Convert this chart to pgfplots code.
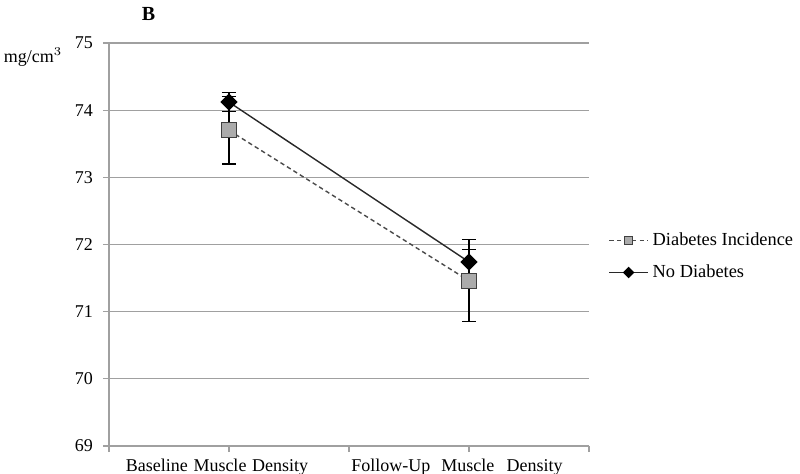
\documentclass[border=0pt]{standalone}
\usepackage{fontspec}
\setmainfont{Liberation Serif}
\usepackage{pgfplots}
\pgfplotsset{compat=1.18}
\definecolor{gridgray}{HTML}{A0A0A0}
\definecolor{sqfill}{HTML}{ABABAB}
\definecolor{sqedge}{HTML}{404040}
\definecolor{dashgray}{HTML}{4A4A4A}
\definecolor{solidline}{HTML}{282828}
\newcommand{\nf}{\fontsize{9pt}{11pt}\selectfont}
\newcommand{\lf}{\fontsize{9.2pt}{11pt}\selectfont}
\begin{document}
\begin{tikzpicture}
\useasboundingbox (-54.5pt,-13.5pt) rectangle (345.5pt,223pt);
\begin{axis}[
  at={(0pt,0pt)}, anchor=south west,
  scale only axis, width=240pt, height=201.5pt,
  xmin=0, xmax=4, ymin=69, ymax=75,
  axis x line*=bottom, axis y line*=left,
  axis line style={gridgray, line width=0.6pt},
  xtick={0,1,2,3,4},
  xticklabels={,Baseline\hspace{2.8pt}Muscle\hspace{2.8pt}Density,,Follow-Up\hspace{5.5pt}Muscle\hspace{6.2pt}Density,},
  ytick={69,70,71,72,73,74,75},
  tick align=outside, major tick length=3pt,
  tick style={gridgray, line width=0.6pt},
  ymajorgrids, grid style={gridgray, line width=0.6pt},
  xticklabel style={font=\nf, xshift=-6pt},
  yticklabel style={font=\nf, xshift=-1.5pt},
  /pgf/number format/assume math mode=true,
  legend style={draw=none, fill=none, at={(1.04,0.47)}, anchor=west,
    font=\lf, row sep=4pt, inner sep=0pt,
    /tikz/every even column/.append style={column sep=1.5pt}},
  legend cell align=left,
  legend image code/.code={
    \draw[mark repeat=2,mark phase=2,#1] plot coordinates {(0cm,0cm) (0.34cm,0cm) (0.68cm,0cm)};
  },
  clip=false,
]
\addplot[dashgray, dash pattern=on 2.2pt off 1.6pt, line width=0.7pt,
  mark=square*, mark size=3.7pt, mark options={solid, fill=sqfill, draw=sqedge, line width=0.5pt},
  legend image post style={mark size=2.1pt},
  error bars/.cd, y dir=both, y explicit,
  error bar style={solid, black, line width=0.6pt},
  error mark options={black, mark size=3.5pt, line width=0.6pt, rotate=90}]
  coordinates {(1,73.70) +- (0,0.50) (3,71.46) +- (0,0.61)};
\addlegendentry{Diabetes Incidence}
\addplot[solidline, solid, line width=0.7pt,
  mark=square*, mark size=2.7pt, mark options={rotate=45, fill=black, draw=black, solid},
  legend image post style={mark size=1.7pt},
  error bars/.cd, y dir=both, y explicit,
  error bar style={solid, black, line width=0.6pt},
  error mark options={black, mark size=3.5pt, line width=0.6pt, rotate=90}]
  coordinates {(1,74.12) +- (0,0.14) (3,71.74) +- (0,0.18)};
\addlegendentry{No Diabetes}
\end{axis}
\node[font=\fontsize{10pt}{12pt}\selectfont\bfseries] at (19.8pt,216pt) {B};
\node[font=\nf] at (-38pt,194.5pt) {mg/cm$^3$};
\end{tikzpicture}
\end{document}
